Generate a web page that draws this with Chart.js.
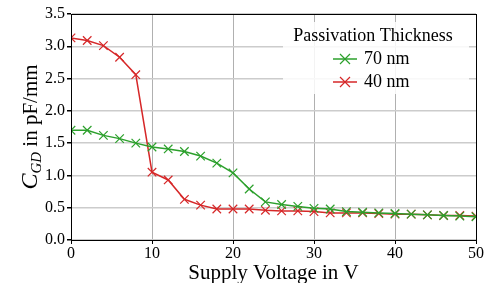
<!DOCTYPE html>
<html>
<head>
<meta charset="utf-8">
<script src="https://cdn.jsdelivr.net/npm/chart.js@4.4.1/dist/chart.umd.min.js"></script>
<style>
html,body{margin:0;padding:0;background:#fff;}
#wrap{width:491px;height:283px;position:relative;}
</style>
</head>
<body>
<div id="wrap"><canvas id="c" width="491" height="283"></canvas></div>
<script>
const voltages = [0,2,4,6,8,10,12,14,16,18,20,22,24,26,28,30,32,34,36,38,40,42,44,46,48,50];
const cgd70 = [1.70,1.70,1.62,1.57,1.50,1.44,1.41,1.37,1.30,1.19,1.04,0.79,0.59,0.55,0.52,0.49,0.48,0.44,0.43,0.42,0.41,0.40,0.39,0.38,0.37,0.36];
const cgd40 = [3.13,3.09,3.01,2.83,2.56,1.05,0.93,0.63,0.54,0.48,0.48,0.48,0.46,0.45,0.45,0.44,0.42,0.42,0.42,0.41,0.40,0.40,0.39,0.38,0.38,0.37];
const xTicks = [0,10,20,30,40,50];
const yTicks = [0.0,0.5,1.0,1.5,2.0,2.5,3.0,3.5];
const seriesNames = ['70 nm','40 nm'];
const legendTitle = 'Passivation Thickness';
const xTitle = 'Supply Voltage in V';
const yTitleMain = 'C';
const yTitleSub = 'GD';
const yTitleRest = ' in pF/mm';

const GREEN = '#2ca02c';
const RED = '#d62728';
const FONT = '"Liberation Serif", "DejaVu Serif", serif';

const extras = {
  id: 'extras',
  afterDatasetsDraw(chart) {
    const ctx = chart.ctx;
    const a = chart.chartArea;
    ctx.save();
    // frame
    ctx.strokeStyle = '#000';
    ctx.lineWidth = 1;
    ctx.strokeRect(Math.round(a.left)+0.5, Math.round(a.top)+0.5, Math.round(a.right-a.left), Math.round(a.bottom-a.top));
    // legend
    ctx.fillStyle = 'rgba(255,255,255,0.85)';
    ctx.fillRect(283, 22, 186, 72);
    ctx.fillStyle = '#000';
    ctx.font = '18px ' + FONT;
    ctx.textAlign = 'center';
    ctx.textBaseline = 'middle';
    ctx.fillText(legendTitle, 373, 36);
    const colors = [GREEN, RED];
    const ys = [59, 82];
    for (let i = 0; i < 2; i++) {
      ctx.strokeStyle = colors[i];
      ctx.lineWidth = 1.5;
      ctx.beginPath(); ctx.moveTo(333, ys[i]); ctx.lineTo(357, ys[i]); ctx.stroke();
      ctx.lineWidth = 1.2;
      const r = 5;
      ctx.beginPath();
      ctx.moveTo(345-r, ys[i]-r); ctx.lineTo(345+r, ys[i]+r);
      ctx.moveTo(345-r, ys[i]+r); ctx.lineTo(345+r, ys[i]-r);
      ctx.stroke();
      ctx.fillStyle = '#000';
      ctx.textAlign = 'left';
      ctx.fillText(seriesNames[i], 364, ys[i]);
    }
    // x title
    ctx.textAlign = 'center';
    ctx.textBaseline = 'alphabetic';
    ctx.font = '21px ' + FONT;
    ctx.fillText(xTitle, (a.left + a.right) / 2, 279);
    // y title
    ctx.translate(30, (a.top + a.bottom) / 2);
    ctx.rotate(-Math.PI / 2);
    ctx.textBaseline = 'alphabetic';
    ctx.font = 'italic 24px ' + FONT;
    const wC = ctx.measureText(yTitleMain).width;
    ctx.font = 'italic 15px ' + FONT;
    const wS = ctx.measureText(yTitleSub).width;
    ctx.font = '21px ' + FONT;
    const wR = ctx.measureText(yTitleRest).width;
    let x0 = -(wC + wS + wR) / 2;
    const base = 7;
    ctx.textAlign = 'left';
    ctx.font = 'italic 24px ' + FONT;
    ctx.fillText(yTitleMain, x0, base);
    ctx.font = 'italic 15px ' + FONT;
    ctx.fillText(yTitleSub, x0 + wC, base + 4);
    ctx.font = '21px ' + FONT;
    ctx.fillText(yTitleRest, x0 + wC + wS, base);
    ctx.restore();
  }
};

new Chart(document.getElementById('c'), {
  type: 'line',
  data: {
    datasets: [
      { label: seriesNames[0], data: voltages.map((v,i)=>({x:v,y:cgd70[i]})), borderColor: GREEN, backgroundColor: GREEN,
        borderWidth: 1.5, pointStyle: 'crossRot', pointRadius: 6, pointBorderWidth: 1.2, pointBorderColor: GREEN, tension: 0, clip: 0 },
      { label: seriesNames[1], data: voltages.map((v,i)=>({x:v,y:cgd40[i]})), borderColor: RED, backgroundColor: RED,
        borderWidth: 1.5, pointStyle: 'crossRot', pointRadius: 6, pointBorderWidth: 1.2, pointBorderColor: RED, tension: 0, clip: 0 }
    ]
  },
  options: {
    responsive: false,
    animation: false,
    layout: { padding: { top: 14, right: 15, left: 0, bottom: 0 } },
    plugins: { legend: { display: false }, tooltip: { enabled: false } },
    scales: {
      x: {
        type: 'linear', min: 0, max: 50,
        afterBuildTicks: s => { s.ticks = xTicks.map(v => ({value: v})); },
        afterFit: s => { s.height = 43; },
        grid: { color: '#b0b0b0', lineWidth: 1, tickColor: '#000', tickLength: 4, drawOnChartArea: true },
        border: { display: true, color: '#000', width: 1 },
        ticks: { color: '#000', font: { family: FONT, size: 16 }, padding: 0, maxRotation: 0, autoSkip: false }
      },
      y: {
        type: 'linear', min: 0, max: 3.5,
        afterBuildTicks: s => { s.ticks = yTicks.map(v => ({value: v})); },
        afterFit: s => { s.width = 71; },
        grid: { color: '#cccccc', lineWidth: 1.5, tickColor: '#000', tickLength: 4 },
        border: { display: true, color: '#000', width: 1 },
        ticks: { color: '#000', font: { family: FONT, size: 16 }, padding: 2, autoSkip: false, callback: v => Number(v).toFixed(1) }
      }
    }
  },
  plugins: [extras]
});
</script>
</body>
</html>
